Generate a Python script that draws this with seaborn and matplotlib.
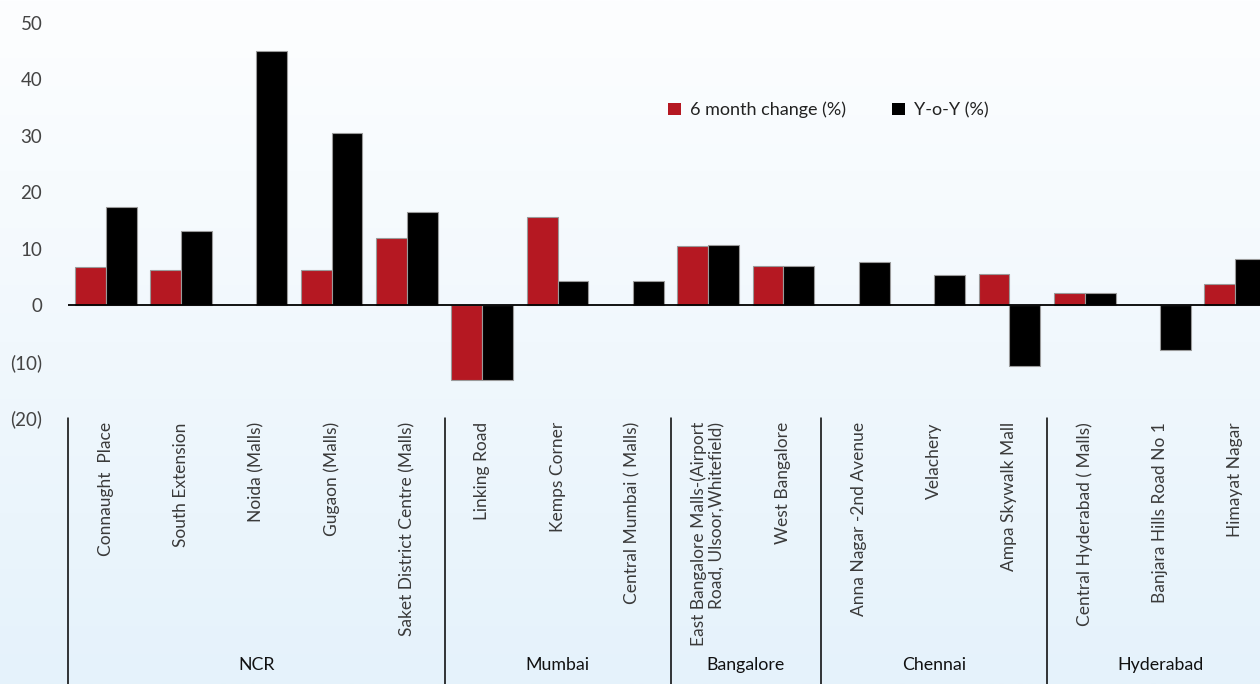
import numpy as np
import pandas as pd
import matplotlib
matplotlib.use("Agg")
import matplotlib.pyplot as plt
import matplotlib.transforms as mtransforms
from matplotlib.patches import Patch
from matplotlib.colors import LinearSegmentedColormap
import seaborn as sns

# ---- data ----
locations = [
    "Connaught  Place", "South Extension", "Noida (Malls)", "Gugaon (Malls)",
    "Saket District Centre (Malls)",
    "Linking Road", "Kemps Corner", "Central Mumbai ( Malls)",
    "East Bangalore Malls-(Airport\nRoad, Ulsoor,Whitefield)", "West Bangalore",
    "Anna Nagar -2nd Avenue", "Velachery", "Ampa Skywalk Mall",
    "Central Hyderabad ( Malls)", "Banjara Hills Road No 1", "Himayat Nagar",
]
change_6m = [6.7, 6.3, np.nan, 6.3, 11.9,
             -13.3, 15.7, np.nan,
             10.4, 7.0,
             np.nan, np.nan, 5.6,
             2.1, np.nan, 3.8]
change_yoy = [17.4, 13.2, 45.0, 30.5, 16.5,
              -13.3, 4.2, 4.3,
              10.6, 7.0,
              7.7, 5.3, -10.8,
              2.2, -7.9, 8.2]
cities = ["NCR", "Mumbai", "Bangalore", "Chennai", "Hyderabad"]
city_sizes = [5, 3, 2, 3, 3]
series_names = ["6 month change (%)", "Y-o-Y (%)"]
y_ticks = [-20, -10, 0, 10, 20, 30, 40, 50]
y_tick_labels = ["(20)", "(10)", "0", "10", "20", "30", "40", "50"]

RED = "#B51822"
BLACK = "#000000"

df = pd.concat([
    pd.DataFrame({"location": locations, "series": series_names[0], "value": change_6m}),
    pd.DataFrame({"location": locations, "series": series_names[1], "value": change_yoy}),
]).dropna()

sns.set_style("white")
plt.rcParams["font.family"] = ["Lato", "DejaVu Sans"]

W, H = 1260, 684
fig = plt.figure(figsize=(W / 100, H / 100), dpi=100)

# soft vertical gradient behind everything
bg = fig.add_axes([0, 0, 1, 1], zorder=-10)
grad = np.linspace(0, 1, 256).reshape(-1, 1)
cmap = LinearSegmentedColormap.from_list("bg", ["#E5F2FB", "#FDFEFF"])
bg.imshow(grad, aspect="auto", cmap=cmap, origin="lower", extent=[0, 1, 0, 1])
bg.set_axis_off()

left_px, right_px, top_px, bottom_px = 68, 1273, 23, 418
ax = fig.add_axes([left_px / W, 1 - bottom_px / H,
                   (right_px - left_px) / W, (bottom_px - top_px) / H])
ax.patch.set_alpha(0)

sns.barplot(data=df, x="location", y="value", hue="series", order=locations,
            hue_order=series_names, palette=[RED, BLACK], saturation=1,
            width=0.82, edgecolor="#9a9a9a", linewidth=0.8, ax=ax,
            legend=False)

ax.set_xlim(-0.5, len(locations) - 0.5)
ax.set_ylim(-20, 50)
ax.axhline(0, color="black", lw=1.3, zorder=1)

ax.set_yticks(y_ticks)
ax.set_yticklabels(y_tick_labels, fontsize=13.5, color="#444444")
ax.set_xticks(range(len(locations)))
ax.set_xticklabels(locations, rotation=90, fontsize=12.5, color="#3a3a3a",
                   multialignment="right")
ax.tick_params(axis="both", length=0)
ax.tick_params(axis="y", pad=18.5)
ax.tick_params(axis="x", pad=3)
ax.set_xlabel("")
ax.set_ylabel("")
for s in ax.spines.values():
    s.set_visible(False)

# city grouping: separators and names below the location labels
trans = mtransforms.blended_transform_factory(ax.transData, ax.transAxes)
axes_h = bottom_px - top_px
y_bottom = -(H - bottom_px) / axes_h
bounds = np.concatenate([[0], np.cumsum(city_sizes)]) - 0.5
for b in bounds:
    ax.plot([b, b], [0, y_bottom], color="black", lw=1.1, transform=trans,
            clip_on=False)
y_city = -(665 - bottom_px) / axes_h
for name, a, b in zip(cities, bounds[:-1], bounds[1:]):
    ax.text((a + b) / 2, y_city, name, transform=trans, ha="center",
            va="center", fontsize=12.8, color="#111111")

handles = [Patch(facecolor=RED, edgecolor="none"),
           Patch(facecolor=BLACK, edgecolor="none")]
fig.legend(handles, series_names, loc="center left",
           bbox_to_anchor=(652 / W, 1 - 110 / H), ncol=2, frameon=False,
           fontsize=13, handlelength=0.72, handleheight=0.72,
           handletextpad=0.5, columnspacing=2.55, labelcolor="#222222")

fig.savefig("out.png", dpi=100)
